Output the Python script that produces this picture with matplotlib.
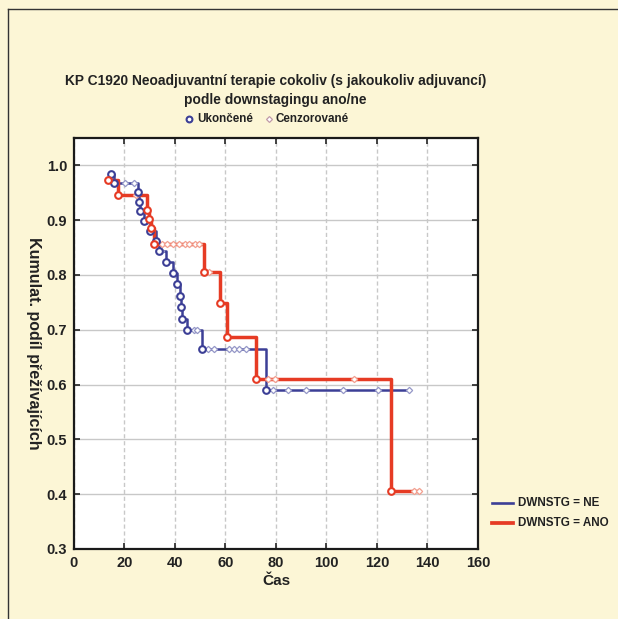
import numpy as np
import matplotlib
matplotlib.use("Agg")
import matplotlib.pyplot as plt
from matplotlib.lines import Line2D

plt.rcParams["font.family"] = ["Liberation Sans", "DejaVu Sans"]
plt.rcParams["font.weight"] = "bold"

# DWNSTG = NE (blue)
ne_event_t = [14.8, 16.0, 25.3, 25.8, 26.0, 27.7, 30.0, 32.5, 33.8, 36.6,
              39.3, 41.0, 41.8, 42.4, 42.8, 44.8, 50.6, 76.1]
ne_event_s = [0.985, 0.968, 0.951, 0.933, 0.916, 0.899, 0.880, 0.862, 0.843, 0.824,
              0.803, 0.783, 0.762, 0.741, 0.720, 0.699, 0.665, 0.591]
ne_cens_t = [20.3, 23.8, 29.0, 34.6, 47.5, 48.8, 53.0, 55.5, 61.5, 63.5, 65.5,
             68.0, 78.9, 84.7, 91.9, 106.6, 120.6, 132.8]

# DWNSTG = ANO (red)
ano_event_t = [13.6, 17.6, 28.9, 29.8, 30.6, 31.8, 51.4, 57.8, 60.8, 71.9, 125.6]
ano_event_s = [0.973, 0.946, 0.919, 0.902, 0.885, 0.857, 0.806, 0.748, 0.686,
               0.611, 0.406]
ano_cens_t = [24.5, 34.7, 37.0, 39.4, 41.7, 44.0, 45.6, 48.0, 49.5, 53.4,
              76.9, 79.7, 110.8, 134.7, 136.6]

blue = "#3c3f96"
red = "#e63b24"

fig = plt.figure(figsize=(6.18, 6.19), dpi=100)
fig.patch.set_facecolor("#fcf6d6")
ax = fig.add_axes([0.1197, 0.1131, 0.6537, 0.664])
ax.set_facecolor("white")


def draw_group(event_t, event_s, cens_t, color, light, lw):
    event_t = np.array(event_t)
    event_s = np.array(event_s)
    cens_t = np.array(cens_t)
    end = max(event_t.max(), cens_t.max())
    ax.step(np.r_[event_t, end], np.r_[event_s, event_s[-1]], where="post",
            color=color, lw=lw, zorder=3)
    idx = np.searchsorted(event_t, cens_t, side="right") - 1
    cens_s = event_s[idx]
    ax.plot(cens_t, cens_s, ls="none", marker="D", ms=3.2, mfc="white",
            mec=light, mew=0.9, zorder=4)
    ax.plot(event_t, event_s, ls="none", marker="o", ms=4.8, mfc="white",
            mec=color, mew=1.5, zorder=5)


draw_group(ne_event_t, ne_event_s, ne_cens_t, blue, "#9597c8", 1.8)
draw_group(ano_event_t, ano_event_s, ano_cens_t, red, "#f2a090", 2.5)

ax.set_xlim(0, 160)
ax.set_ylim(0.3, 1.05)
ax.set_xticks(np.arange(0, 161, 20))
ax.set_yticks(np.arange(0.3, 1.01, 0.1))
ax.set_yticklabels([f"{v:.1f}" for v in np.arange(0.3, 1.01, 0.1)])
ax.yaxis.grid(True, color="#c8c8c8", lw=1.0, ls="-")
ax.xaxis.grid(True, color="#c8c8c8", lw=1.0, ls=(0, (3, 2)))
ax.set_axisbelow(True)
ax.tick_params(direction="in", top=True, right=True, length=4, width=1.2,
               labelsize=10.5, colors="#222222", pad=5)
for lab in ax.get_xticklabels() + ax.get_yticklabels():
    lab.set_fontweight("bold")
for sp in ax.spines.values():
    sp.set_linewidth(1.6)
    sp.set_color("#1a1a1a")

ax.set_xlabel("Čas", fontsize=11, fontweight="bold", color="#222222", labelpad=3)
ax.set_ylabel("Kumulat. podíl přežívajících", fontsize=11.5, fontweight="bold",
              color="#222222", rotation=-90, labelpad=15)

fig.text(0.446, 0.869, "KP C1920 Neoadjuvantní terapie cokoliv (s jakoukoliv adjuvancí)",
         ha="center", va="center", fontsize=9.9, fontweight="bold", color="#222222")
fig.text(0.446, 0.838, "podle downstagingu ano/ne", ha="center", va="center",
         fontsize=9.9, fontweight="bold", color="#222222")

# legend for markers above plot
ly = 1 - 119.4 / 619
fig.add_artist(Line2D([189 / 618], [ly], marker="o", ms=4.2, mfc="white", mec=blue,
                      mew=1.5, ls="none", transform=fig.transFigure))
fig.text(197 / 618, ly, "Ukončené", ha="left", va="center", fontsize=8.4,
         fontweight="bold", color="#222222")
fig.add_artist(Line2D([269 / 618], [ly], marker="D", ms=3, mfc="white", mec="#c09aa8",
                      mew=0.9, ls="none", transform=fig.transFigure))
fig.text(276 / 618, ly, "Cenzorované", ha="left", va="center", fontsize=8.4,
         fontweight="bold", color="#222222")

# group legend right of plot
for yy, col, lw, txt in [(503, blue, 1.9, "DWNSTG = NE"), (523, red, 2.7, "DWNSTG = ANO")]:
    fy = 1 - yy / 619
    fig.add_artist(Line2D([492 / 618, 513 / 618], [fy, fy], color=col, lw=lw,
                          transform=fig.transFigure))
    fig.text(518 / 618, fy, txt, ha="left", va="center", fontsize=8.4,
             fontweight="bold", color="#222222")

# frame lines (left and top)
fig.add_artist(Line2D([8 / 618, 8 / 618], [0, 1 - 9 / 619], color="#333333", lw=1.0,
                      transform=fig.transFigure))
fig.add_artist(Line2D([8 / 618, 1], [1 - 9 / 619, 1 - 9 / 619], color="#333333", lw=1.0,
                      transform=fig.transFigure))

fig.savefig("out.png", dpi=100, facecolor=fig.get_facecolor())
